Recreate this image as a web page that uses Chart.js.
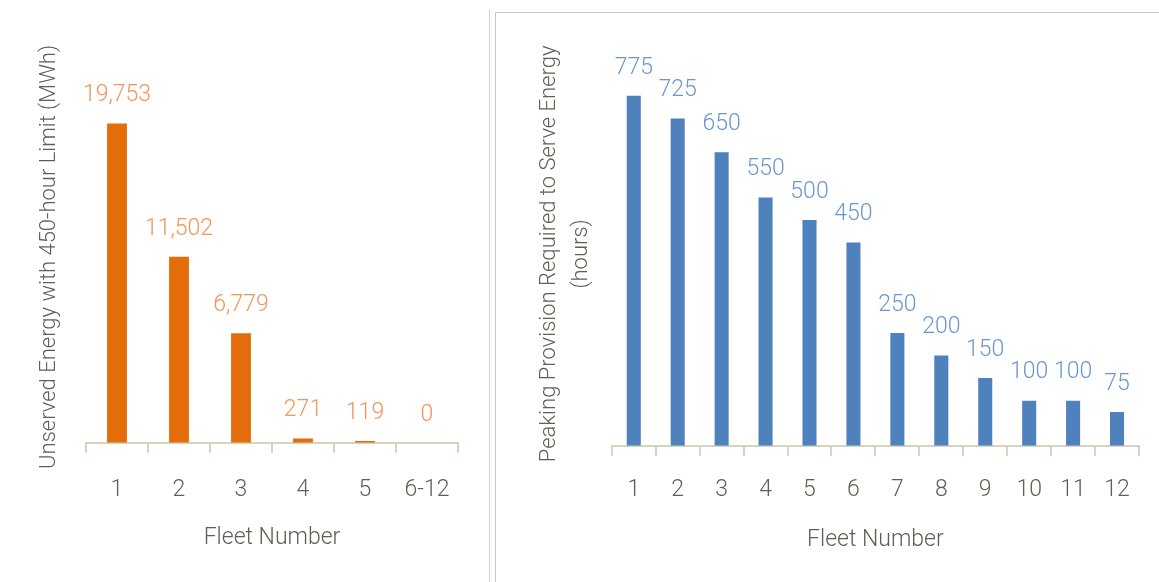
<!DOCTYPE html>
<html>
<head>
<meta charset="utf-8">
<script src="https://cdn.jsdelivr.net/npm/chart.js@4.4.1/dist/chart.umd.min.js"></script>
<style>
  html, body { margin: 0; padding: 0; background: #fff; }
  body { width: 1159px; height: 582px; position: relative; overflow: hidden; }
  #leftBox { position: absolute; left: 0; top: 0; width: 480px; height: 582px; }
  #divider { position: absolute; left: 489px; top: 10px; width: 0; height: 572px; border-left: 1px solid #d4d4d4; }
  #rightBox { position: absolute; left: 495px; top: 12px; width: 664px; height: 570px;
              border-left: 1px solid #c8c8c8; border-top: 1px solid #c8c8c8; }
</style>
</head>
<body>
<div id="leftBox"><canvas id="unserved"></canvas></div>
<div id="divider"></div>
<div id="rightBox"><canvas id="peaking"></canvas></div>
<script>
// data
const unservedFleets = ['1', '2', '3', '4', '5', '6-12'];
const unservedMWh = [19753, 11502, 6779, 271, 119, 0];

const peakingFleets = ['1', '2', '3', '4', '5', '6', '7', '8', '9', '10', '11', '12'];
const peakingHours = [775, 725, 650, 550, 500, 450, 250, 200, 150, 100, 100, 75];

const FONT = "Roboto, 'Liberation Sans', sans-serif";
const WEIGHT = 300;
const TEXT = '#5f5f55';
const AXIS = '#d9d3bd';

// draws the number above each bar
const valueLabels = {
  id: 'valueLabels',
  afterDatasetsDraw(chart, args, opts) {
    const ctx = chart.ctx;
    const meta = chart.getDatasetMeta(0);
    const values = chart.data.datasets[0].data;
    ctx.save();
    ctx.font = `${WEIGHT} ${opts.size}px ${FONT}`;
    ctx.fillStyle = opts.color;
    ctx.textAlign = 'center';
    ctx.textBaseline = 'middle';
    meta.data.forEach((bar, i) => {
      ctx.fillText(values[i].toLocaleString('en-US'), bar.x, bar.y - opts.offset);
    });
    ctx.restore();
  }
};

function xAxis(tickPad, titlePad) {
  return {
    offset: true,
    grid: { display: true, drawOnChartArea: false, drawTicks: true, tickLength: 10,
            color: AXIS, lineWidth: 2, offset: true },
    border: { display: true, color: AXIS, width: 2 },
    ticks: { color: TEXT, font: { family: FONT, size: 23, weight: WEIGHT }, padding: tickPad,
             maxRotation: 0, autoSkip: false },
    title: { display: true, text: 'Fleet Number', color: TEXT,
             font: { family: FONT, size: 23, weight: WEIGHT }, padding: { top: titlePad, bottom: 0 } }
  };
}

function yAxis(max, title, lineHeight, padBottom) {
  return {
    min: 0, max: max,
    grid: { display: false, drawTicks: false },
    border: { display: false },
    ticks: { display: false },
    title: { display: true, text: title, color: TEXT,
             font: { family: FONT, size: 22, weight: WEIGHT, lineHeight: lineHeight },
             padding: { top: 0, bottom: padBottom } }
  };
}

new Chart(document.getElementById('unserved'), {
  type: 'bar',
  data: {
    labels: unservedFleets,
    datasets: [{
      data: unservedMWh,
      backgroundColor: '#e46c0a',
      barPercentage: 0.4,
      categoryPercentage: 0.8
    }]
  },
  options: {
    responsive: true,
    maintainAspectRatio: false,
    animation: false,
    layout: { padding: { left: 36, right: 22, top: 71, bottom: 30 } },
    plugins: {
      legend: { display: false },
      tooltip: { enabled: false },
      valueLabels: { size: 23, color: '#f3955a', offset: 28 }
    },
    scales: {
      x: xAxis(24, -4),
      y: yAxis(23000, 'Unserved Energy with 450-hour Limit (MWh)', 1.25, 22.5)
    }
  },
  plugins: [valueLabels]
});

new Chart(document.getElementById('peaking'), {
  type: 'bar',
  data: {
    labels: peakingFleets,
    datasets: [{
      data: peakingHours,
      backgroundColor: '#4f81bd',
      barPercentage: 0.4,
      categoryPercentage: 0.8
    }]
  },
  options: {
    responsive: true,
    maintainAspectRatio: false,
    animation: false,
    layout: { padding: { left: 38, right: 21, top: 49, bottom: 29 } },
    plugins: {
      legend: { display: false },
      tooltip: { enabled: false },
      valueLabels: { size: 23, color: '#6b97cf', offset: 28 }
    },
    scales: {
      x: xAxis(21, 1),
      y: yAxis(850, ['Peaking Provision Required to Serve Energy', '(hours)'], 1.45, 14)
    }
  },
  plugins: [valueLabels]
});
</script>
</body>
</html>
